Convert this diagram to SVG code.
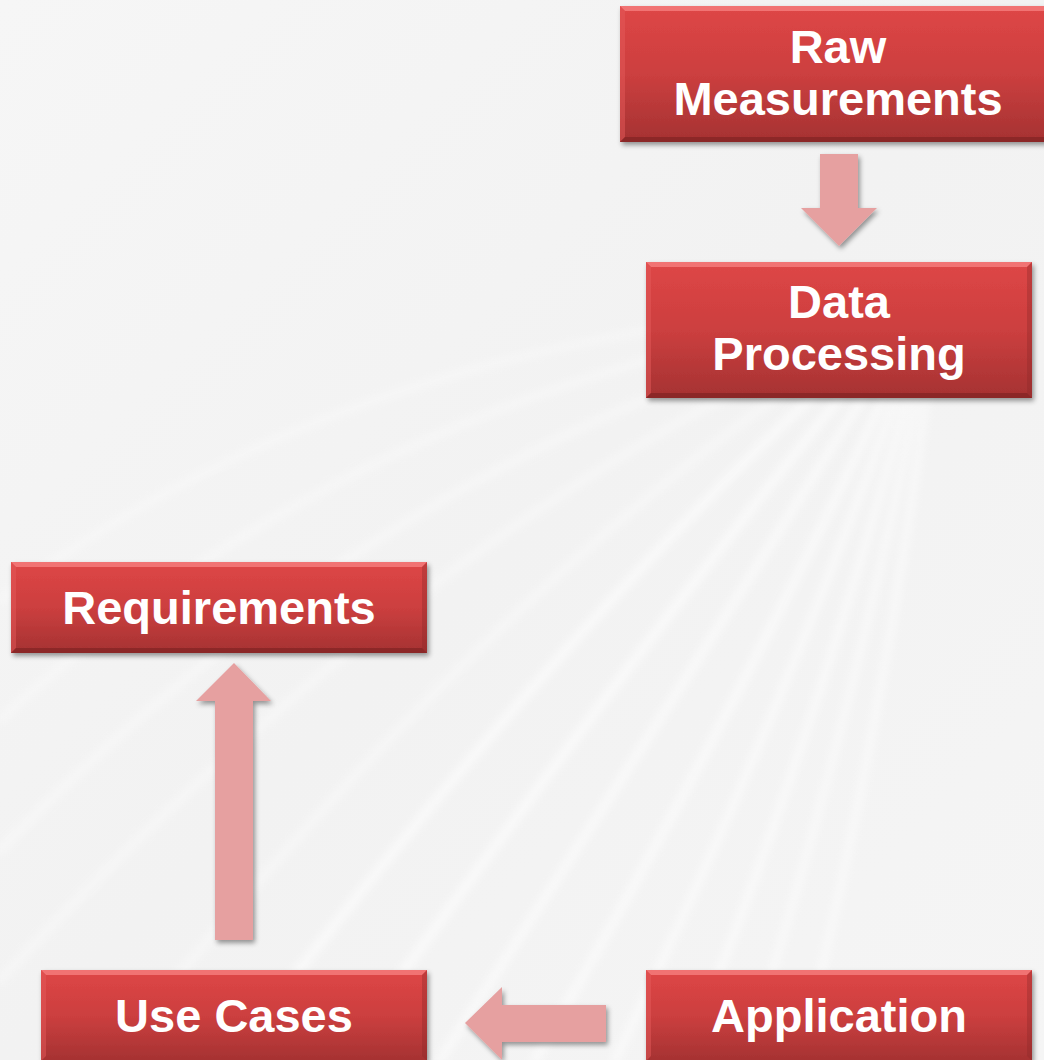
<svg xmlns="http://www.w3.org/2000/svg" width="1044" height="1060" viewBox="0 0 1044 1060">
<defs>
<style>
.lbl{font-family:"Liberation Sans",Arial,sans-serif;font-weight:bold;font-size:47px;fill:#FFFFFF;text-anchor:middle}
.arrow{fill:#E6A0A0;filter:url(#shadow)}
.box{fill:url(#boxGrad);filter:url(#shadow)}
.bt{fill:#F57B7B;opacity:.85}
.bl{fill:#E45A5A;opacity:.5}
.br{fill:#8A2828;opacity:.35}
.bb{fill:#7A2020;opacity:.6}
.streak{fill:none;stroke:#FFFFFF;stroke-linecap:round}
</style>
<linearGradient id="boxGrad" x1="0" y1="0" x2="0" y2="1">
<stop offset="0" stop-color="#DE4646"/>
<stop offset="0.5" stop-color="#CC3F3F"/>
<stop offset="1" stop-color="#A53232"/>
</linearGradient>
<linearGradient id="bg" x1="0" y1="0" x2="1" y2="1">
<stop offset="0" stop-color="#F6F6F6"/>
<stop offset="0.5" stop-color="#F2F2F2"/>
<stop offset="1" stop-color="#F5F5F5"/>
</linearGradient>
<filter id="shadow" x="-10%" y="-10%" width="125%" height="130%">
<feDropShadow dx="2" dy="3" stdDeviation="2.5" flood-color="#000000" flood-opacity="0.4"/>
</filter>
<filter id="blur" x="-20%" y="-20%" width="140%" height="140%">
<feGaussianBlur stdDeviation="4"/>
</filter>
</defs>

<g id="background">
<rect x="0" y="0" width="1044" height="1060" fill="url(#bg)"/>
<g filter="url(#blur)" opacity="0.6">
<path class="streak" stroke-width="6" d="M935 330 Q 890 700 800 1060"/>
<path class="streak" stroke-width="6" d="M930 330 Q 860 700 745 1060"/>
<path class="streak" stroke-width="7" d="M925 330 Q 830 700 685 1060"/>
<path class="streak" stroke-width="7" d="M920 330 Q 795 690 615 1060"/>
<path class="streak" stroke-width="8" d="M915 330 Q 755 680 535 1060"/>
<path class="streak" stroke-width="8" d="M905 330 Q 700 660 440 1060"/>
<path class="streak" stroke-width="9" d="M895 330 Q 640 640 340 1060"/>
<path class="streak" stroke-width="9" d="M885 330 Q 570 610 230 1060"/>
</g>
<g filter="url(#blur)" opacity="0.35">
<path class="streak" stroke-width="9" d="M875 330 Q 500 570 110 1060"/>
<path class="streak" stroke-width="9" d="M860 330 Q 430 520 0 980"/>
<path class="streak" stroke-width="9" d="M845 330 Q 380 460 0 850"/>
<path class="streak" stroke-width="8" d="M830 320 Q 350 400 0 720"/>
<path class="streak" stroke-width="7" d="M815 310 Q 330 350 0 600"/>
</g>
</g>

<g id="connectors">
<polygon class="arrow" points="820,154 858,154 858,208 877,208 839,246 801,208 820,208"/>
<polygon class="arrow" points="215,940 253,940 253,701 271,701 234,663 196,701 215,701"/>
<polygon class="arrow" points="606,1005 606,1042 502,1042 502,1060 465,1023 502,987 502,1005"/>
</g>

<g id="raw-measurements">
<rect class="box" x="620" y="6" width="436" height="136"/>
<polygon class="bt" points="620,6 1056,6 1051,11 625,11"/>
<polygon class="bl" points="620,6 625,11 625,137 620,142"/>
<polygon class="br" points="1056,6 1056,142 1051,137 1051,11"/>
<polygon class="bb" points="620,142 625,137 1051,137 1056,142"/>
<text class="lbl" x="838" y="63">Raw</text>
<text class="lbl" x="838" y="115">Measurements</text>
</g>

<g id="data-processing">
<rect class="box" x="646" y="262" width="386" height="136"/>
<polygon class="bt" points="646,262 1032,262 1027,267 651,267"/>
<polygon class="bl" points="646,262 651,267 651,393 646,398"/>
<polygon class="br" points="1032,262 1032,398 1027,393 1027,267"/>
<polygon class="bb" points="646,398 651,393 1027,393 1032,398"/>
<text class="lbl" x="839" y="318">Data</text>
<text class="lbl" x="839" y="370">Processing</text>
</g>

<g id="requirements">
<rect class="box" x="11" y="562" width="416" height="91"/>
<polygon class="bt" points="11,562 427,562 422,567 16,567"/>
<polygon class="bl" points="11,562 16,567 16,648 11,653"/>
<polygon class="br" points="427,562 427,653 422,648 422,567"/>
<polygon class="bb" points="11,653 16,648 422,648 427,653"/>
<text class="lbl" x="219" y="624">Requirements</text>
</g>

<g id="use-cases">
<rect class="box" x="41" y="970" width="386" height="91"/>
<polygon class="bt" points="41,970 427,970 422,975 46,975"/>
<polygon class="bl" points="41,970 46,975 46,1056 41,1061"/>
<polygon class="br" points="427,970 427,1061 422,1056 422,975"/>
<text class="lbl" x="234" y="1032">Use Cases</text>
</g>

<g id="application">
<rect class="box" x="646" y="970" width="386" height="91"/>
<polygon class="bt" points="646,970 1032,970 1027,975 651,975"/>
<polygon class="bl" points="646,970 651,975 651,1056 646,1061"/>
<polygon class="br" points="1032,970 1032,1061 1027,1056 1027,975"/>
<text class="lbl" x="839" y="1032">Application</text>
</g>
</svg>
